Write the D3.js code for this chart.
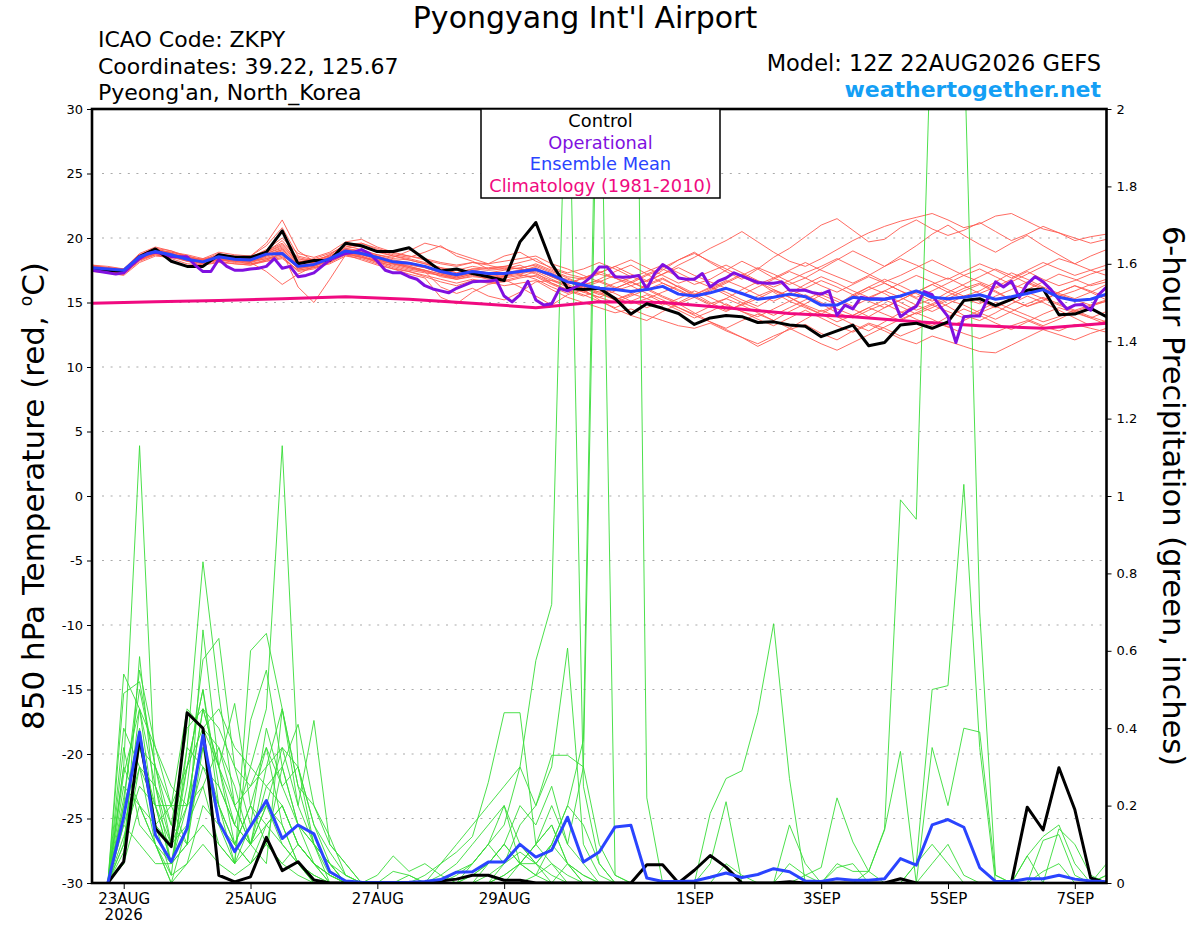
<!DOCTYPE html>
<html>
<head>
<meta charset="utf-8">
<script src="https://cdn.jsdelivr.net/npm/d3@7"></script>
<style>
  body { margin: 0; background: #fff; }
  svg text { font-family: "DejaVu Sans", "Liberation Sans", Arial, sans-serif; }
</style>
</head>
<body>
<div id="chart"></div>
<script>
// ========= Run / axis definitions ========= //
const runStart = Date.UTC(2026, 7, 22, 12);   // 12Z 22AUG2026
const HOUR = 3600 * 1000;
const xTickDates = ['2026-08-23', '2026-08-25', '2026-08-27', '2026-08-29', '2026-09-01', '2026-09-03', '2026-09-05', '2026-09-07'];
const xTickLabels = ['23AUG', '25AUG', '27AUG', '29AUG', '1SEP', '3SEP', '5SEP', '7SEP'];
const tempTicks = [-30, -25, -20, -15, -10, -5, 0, 5, 10, 15, 20, 25, 30];
const gridTemps = [-25, -20, -15, -10, -5, 0, 5, 10, 15, 20, 25];
const precipTicks = [0, 0.2, 0.4, 0.6, 0.8, 1, 1.2, 1.4, 1.6, 1.8, 2];
const legendItems = ['Control', 'Operational', 'Ensemble Mean', 'Climatology (1981-2010)'];

// ========= 850 hPa temperature, 6-hourly from 12Z 22AUG ========= //
const controlTemp = [
  17.6, 17.5, 17.4, 18.55, 19.15, 18.2, 17.8, 17.8, 18.7, 18.5,
  18.5, 18.9, 20.55, 18.0, 18.25, 18.25, 19.6, 19.4, 18.95, 18.95,
  19.25, 18.35, 17.45, 17.6, 17.25, 17.0, 16.7, 19.7, 21.2, 18.0,
  16.1, 16.0, 16.1, 15.3, 14.1, 14.9, 14.55, 14.15, 13.3, 13.8,
  14.0, 13.9, 13.45, 13.5, 13.25, 13.15, 12.35, 12.8, 13.25, 11.65,
  11.9, 13.25, 13.4, 13.0, 13.5, 15.15, 15.3, 14.75, 15.25, 15.95,
  16.05, 14.05, 14.1, 14.55, 13.9
];
const meanTemp = [
  17.7, 17.6, 17.5, 18.55, 18.95, 18.7, 18.35, 18.15, 18.55, 18.35,
  18.3, 18.75, 18.8, 17.8, 17.95, 18.4, 19.0, 18.8, 18.5, 18.15,
  18.05, 17.8, 17.4, 17.15, 17.4, 17.25, 17.25, 17.4, 17.55, 17.15,
  16.6, 16.35, 16.1, 16.0, 15.85, 16.0, 16.25, 15.65, 15.5, 15.75,
  16.1, 15.7, 15.25, 15.4, 15.65, 15.45, 14.8, 14.8, 15.4, 15.25,
  15.25, 15.5, 15.9, 15.4, 15.3, 15.4, 15.6, 15.25, 15.45, 15.7,
  16.0, 15.4, 15.15, 15.25, 15.65
];
// operational run is 3-hourly
const operationalTemp = [
  17.5, 17.4, 17.3, 17.2, 17.3, 17.9, 18.4, 18.8, 18.9, 18.8,
  18.55, 18.55, 18.55, 17.9, 17.4, 17.4, 18.35, 17.8, 17.5, 17.5,
  17.6, 17.65, 17.8, 18.4, 17.65, 17.8, 17.0, 17.1, 17.3, 17.8,
  18.3, 18.55, 18.8, 18.9, 19.1, 18.8, 18.2, 17.5, 17.3, 17.3,
  17.0, 16.8, 16.3, 16.05, 15.9, 15.75, 16.1, 16.35, 16.6, 16.65,
  16.65, 16.75, 15.5, 15.05, 15.6, 16.65, 15.2, 14.8, 14.9, 16.1,
  15.9, 16.2, 16.5, 17.0, 17.75, 17.75, 17.0, 16.95, 17.0, 17.1,
  16.05, 17.25, 17.95, 17.55, 16.9, 16.8, 16.8, 17.25, 16.2, 16.65,
  16.9, 17.3, 17.05, 16.8, 16.55, 16.5, 16.5, 16.6, 15.95, 15.95,
  15.95, 15.75, 15.65, 15.9, 14.0, 14.8, 14.5, 15.4, 15.3, 15.3,
  15.25, 15.4, 13.9, 14.35, 14.7, 15.85, 15.6, 14.7, 13.9, 11.9,
  13.9, 13.95, 13.95, 15.3, 16.6, 16.2, 16.65, 15.4, 16.45, 17.0,
  16.6, 16.0, 15.2, 14.5, 14.8, 14.85, 14.4, 15.6, 16.2
];
// climatology, one value per day at 12Z
const climTemp = [14.95, 15.05, 15.15, 15.3, 15.45, 15.25, 14.95, 14.6, 15.05, 15.0, 14.6, 14.15, 13.9, 13.5, 13.2, 13.0, 13.4];

// ensemble members (red)
const tempMembers = [
  [17.9,17.6,17.3,18.6,19.1,18.9,18.6,18.3,18.8,18.5, 18.6,19.4,20.8,18.6,18.3,18.6,19.3,19.6,19.1,18.7, 18.5,18.9,19.4,18.6,18.2,17.6,17.8,18.1,18.4,17.6, 17.2,16.9,17.3,17.8,17.2,16.7,17.5,18.3,18.9,18.1, 17.4,16.8,17.6,18.5,19.2,20.1,21.0,21.5,20.6,19.7, 19.9,20.8,21.4,20.7,20.2,20.6,21.2,20.5,19.8,20.3, 20.9,20.4,19.8,20.1,20.3],
  [17.5,17.3,17.2,18.2,18.7,18.4,18.0,17.9,18.2,18.0, 17.9,18.2,18.4,17.5,17.7,18.0,18.6,18.4,18.0,17.6, 17.4,17.1,16.8,16.5,16.8,16.6,16.3,16.5,16.7,16.0, 15.4,15.0,14.6,14.2,14.5,14.0,13.6,13.2,13.0,13.4, 12.8,12.3,11.8,12.4,12.9,13.3,12.6,12.1,12.8,13.4, 13.0,12.4,12.9,13.5,13.1,12.6,12.2,12.7,13.2,13.6, 13.1,12.8,13.3,13.0,12.7],
  [17.8,17.7,17.6,18.7,19.2,18.8,18.3,18.4,18.9,18.7, 18.6,19.6,21.4,19.0,18.2,18.5,19.1,19.0,18.7,18.4, 18.3,18.0,17.6,17.3,17.6,17.5,17.6,17.9,17.3,16.5, 16.0,16.3,15.8,15.2,15.6,16.4,16.9,16.2,15.5,14.9, 15.3,16.0,16.6,15.8,15.1,14.6,14.1,14.8,15.6,16.2, 15.7,15.0,14.4,14.9,15.5,16.1,16.5,15.9,15.2,14.7, 15.1,15.8,16.3,15.9,15.4],
  [17.6,17.4,17.2,18.3,18.8,18.6,18.4,18.1,18.3,18.2, 18.1,17.4,16.4,17.2,17.8,18.3,18.8,18.5,18.2,18.0, 17.8,17.5,17.0,16.8,17.0,16.9,17.1,17.3,17.5,17.0, 16.8,16.4,16.0,16.5,16.9,17.4,17.9,17.3,16.7,16.2, 15.8,15.2,14.7,15.4,16.0,15.5,14.9,14.2,13.8,14.4, 14.9,14.3,13.7,13.2,13.9,14.5,14.0,13.4,12.9,13.5, 14.1,14.6,14.2,13.8,14.3],
  [17.7,17.5,17.4,18.5,19.0,18.9,18.7,18.4,18.6,18.5, 18.4,18.9,19.8,18.4,18.1,18.7,19.5,19.3,18.9,18.6, 18.4,18.1,17.7,17.3,17.6,17.7,17.8,17.6,18.0,17.5, 17.0,16.8,17.2,16.9,16.5,17.1,17.6,17.0,16.4,16.8, 17.5,18.2,17.6,16.9,16.4,16.9,17.6,18.3,19.0,18.4, 17.8,18.6,19.4,20.3,21.0,20.2,19.5,18.9,19.6,20.2, 19.4,18.7,18.0,18.6,19.1],
  [17.6,17.5,17.4,18.4,18.9,18.7,18.3,18.0,18.4,18.3, 18.2,18.5,18.9,16.2,15.0,16.8,18.7,18.5,18.3,18.0, 17.9,17.7,17.3,17.0,17.3,17.0,16.8,16.2,15.5,14.8, 15.6,16.0,15.2,14.5,14.0,13.6,14.3,14.9,14.2,13.5, 12.9,12.3,11.6,12.2,13.0,13.7,14.4,13.9,13.3,12.8, 13.5,14.2,14.8,15.3,14.7,14.0,13.6,14.2,14.9,15.5, 15.0,14.4,13.8,13.2,13.6],
  [17.9,17.8,17.6,18.8,19.3,19.0,18.5,18.2,18.7,18.4, 18.5,19.1,20.0,18.8,18.5,18.9,19.7,19.9,19.3,18.9, 18.6,18.3,18.0,17.8,18.1,17.9,17.6,17.2,16.8,16.2, 15.7,16.3,16.8,17.4,17.9,17.2,16.5,15.9,15.4,15.9, 16.5,17.1,17.7,17.2,16.6,16.0,15.4,14.8,15.5,16.2, 16.8,16.3,15.7,15.1,15.8,16.4,17.0,17.6,17.1,16.5, 16.0,15.5,15.9,16.4,16.8],
  [17.4,17.3,17.1,18.1,18.6,18.5,18.2,17.9,18.1,18.0, 17.9,18.3,18.6,17.4,17.6,18.1,18.7,18.3,17.9,17.6, 17.2,16.9,15.4,14.9,15.8,16.4,16.7,17.0,17.4,16.8, 16.3,15.8,15.4,15.9,16.3,15.7,15.2,14.6,14.1,14.7, 15.3,14.8,14.2,13.6,14.3,14.9,15.6,15.1,14.5,13.9, 14.6,15.2,15.8,16.4,15.8,15.3,14.9,15.5,16.0,16.6, 16.1,15.6,15.2,14.8,15.1],
  [17.8,17.6,17.5,18.6,19.1,18.8,18.5,18.3,18.6,18.6, 18.4,18.8,19.2,18.1,18.4,18.8,19.4,19.1,18.7,18.5, 19.0,19.6,19.3,18.8,18.4,18.0,18.6,18.9,18.2,17.7, 17.3,17.6,18.1,17.6,17.0,16.6,17.2,17.9,18.5,19.2, 19.8,20.5,19.7,18.9,18.2,17.8,18.4,19.1,19.8,20.4, 20.9,21.3,21.6,21.9,21.4,20.8,21.1,21.7,21.9,21.3, 20.7,20.4,20.0,19.6,19.9],
  [17.5,17.4,17.3,18.3,18.8,18.6,18.2,18.1,18.5,18.3, 18.1,18.6,19.0,17.8,18.0,18.3,18.9,18.6,18.2,17.8, 17.5,17.3,17.1,16.9,17.2,17.0,16.9,17.1,17.0,16.4, 15.9,15.5,15.9,15.4,14.9,15.3,15.8,16.3,15.7,15.0, 14.4,14.8,15.3,15.9,15.4,14.7,14.1,13.5,14.0,14.6, 15.2,14.7,14.1,14.6,15.2,14.8,14.2,13.7,14.3,14.9, 15.4,14.9,14.4,14.8,15.2],
  [17.7,17.6,17.5,18.6,19.0,18.7,18.4,18.2,18.4,18.2, 18.3,18.8,19.3,18.2,18.1,18.5,19.2,19.0,18.6,18.2, 18.1,17.8,17.4,17.1,17.5,17.3,17.5,17.7,17.9,17.4, 16.9,16.4,16.7,16.2,15.8,16.3,16.8,16.2,15.6,16.1, 16.7,16.2,15.6,15.1,15.7,16.4,17.0,16.5,15.9,15.4, 15.9,16.5,17.1,16.6,16.0,15.5,15.9,16.6,17.3,16.8, 16.2,15.7,15.3,15.8,16.4],
  [17.6,17.4,17.3,18.4,18.8,18.6,18.3,18.0,18.3,18.2, 18.0,18.2,18.5,17.5,17.7,18.1,18.8,18.6,18.1,17.7, 17.4,17.0,16.6,16.3,16.7,16.5,16.6,16.9,17.1,16.5, 16.0,15.6,15.1,14.6,15.1,15.6,15.0,14.4,13.8,14.3, 14.9,14.3,13.7,13.2,13.8,14.4,13.8,13.2,12.7,13.3, 12.8,12.2,11.8,12.4,12.0,11.6,11.2,11.1,11.7,12.3, 12.9,12.5,12.1,12.6,13.0],
  [17.9,17.7,17.6,18.7,19.2,19.0,18.6,18.3,18.5,18.4, 18.3,18.9,19.5,18.3,18.3,18.6,19.2,19.4,19.0,18.6, 18.3,18.0,17.7,17.5,17.8,17.6,17.7,17.6,17.2,16.7, 16.4,16.9,17.4,16.9,16.3,16.7,17.2,17.7,17.1,16.6, 16.1,15.6,16.2,16.8,17.4,16.9,16.3,15.8,16.4,17.0, 16.5,15.9,15.4,15.9,16.5,17.1,17.6,17.0,16.4,16.0, 16.6,17.2,16.8,16.3,16.6],
  [17.5,17.3,17.2,18.3,18.7,18.5,18.3,18.1,18.4,18.3, 18.2,18.4,18.7,17.7,17.8,18.2,18.9,18.7,18.3,18.0, 17.7,17.4,17.1,16.8,17.1,16.8,17.0,17.4,17.8,17.3, 16.7,16.2,15.7,15.2,15.7,15.3,14.8,15.3,15.9,15.4, 14.8,14.3,13.9,14.5,15.1,15.6,15.0,14.5,14.0,14.6, 14.1,13.6,14.2,14.8,14.3,13.8,14.4,15.0,14.5,14.0, 13.5,13.9,14.4,13.9,13.5],
  [17.8,17.7,17.5,18.5,19.1,18.8,18.5,18.2,18.7,18.6, 18.5,19.0,19.6,18.5,18.2,18.7,19.5,19.6,19.2,18.8, 18.6,18.4,18.1,17.9,18.1,18.0,18.2,18.4,18.6,18.0, 17.6,17.1,16.6,16.1,16.6,17.2,17.7,18.3,18.8,18.2, 17.6,17.0,16.4,16.9,17.5,18.1,17.5,17.0,16.5,17.1, 17.8,18.4,17.9,17.3,16.8,17.4,18.0,17.5,16.9,17.5, 18.1,17.6,17.1,17.5,17.9],
  [17.6,17.5,17.4,18.4,18.9,18.7,18.4,18.2,18.5,18.4, 18.3,18.6,19.1,17.9,18.0,18.4,19.0,18.8,18.4,18.1, 17.8,17.5,17.2,17.0,17.3,17.1,17.2,17.5,17.7,17.1, 16.6,16.1,15.6,16.1,16.6,16.1,15.5,15.0,15.6,16.2, 15.6,15.0,14.5,14.0,14.6,15.2,15.8,15.3,14.7,15.3, 15.9,15.4,14.8,14.3,14.9,15.5,15.1,14.6,15.2,15.8, 15.3,14.8,14.3,14.7,15.1],
  [17.7,17.5,17.3,18.4,18.9,18.6,18.3,18.0,18.3,18.1, 18.0,18.3,18.8,17.6,17.8,18.3,18.8,18.5,18.1,17.9, 17.6,17.4,16.2,15.7,16.1,15.5,15.2,15.8,16.6,16.7, 16.2,15.8,16.2,15.7,15.1,14.6,15.1,14.6,14.0,13.5, 13.0,13.6,14.1,13.6,13.0,12.4,11.8,11.3,11.9,12.5, 13.1,13.7,14.2,13.7,13.1,13.6,14.2,14.7,14.2,13.7, 13.2,13.7,14.3,13.8,13.3],
  [17.8,17.6,17.5,18.6,19.1,18.8,18.5,18.3,18.6,18.5, 18.4,18.9,19.4,18.2,18.1,18.5,19.1,18.9,18.6,18.3, 18.1,17.8,17.4,17.2,17.5,17.3,17.2,17.4,17.6,17.0, 16.5,16.9,17.3,17.8,18.3,17.7,17.1,16.5,16.9,17.4, 17.9,17.3,16.7,16.2,16.7,17.3,17.8,18.4,17.8,17.2, 16.6,17.1,17.7,18.3,17.7,17.1,16.6,16.1,16.6,17.2, 17.8,18.4,18.0,17.5,17.1],
  [17.6,17.4,17.3,18.3,18.8,18.6,18.3,18.1,18.3,18.3, 18.1,18.4,18.8,17.6,17.9,18.3,18.9,18.7,18.4,18.0, 17.7,17.5,17.2,16.9,17.2,17.1,17.3,17.5,17.6,17.0, 16.4,15.9,15.4,15.0,15.5,16.0,16.5,16.0,15.4,14.8, 14.3,14.9,15.5,16.0,15.4,14.8,14.3,14.8,15.4,16.0, 16.5,15.9,15.3,14.8,15.3,15.9,16.4,15.8,15.2,14.7, 15.2,15.8,16.3,15.8,15.2],
  [17.7,17.6,17.4,18.5,19.0,18.7,18.4,18.2,18.4,18.4, 18.2,18.7,19.1,18.0,18.1,18.5,19.1,18.9,18.5,18.2, 18.0,17.7,17.3,17.1,17.4,17.2,17.0,17.2,17.5,17.0, 16.6,16.2,16.6,17.1,16.6,16.0,15.4,14.9,15.4,16.0, 16.6,17.2,16.6,16.0,15.5,16.1,16.7,16.2,15.6,15.1, 14.6,15.2,15.8,16.4,16.9,16.3,15.7,16.2,16.8,17.4, 16.8,16.3,16.7,17.2,17.6]
];

// ========= 6-hour precipitation (inches), valid 18Z 22AUG .. 12Z 7SEP ========= //
const controlPrecip = [
  0, 0.055, 0.378, 0.141, 0.094, 0.44, 0.40, 0.02, 0.003, 0.016,
  0.118, 0.032, 0.055, 0.008, 0, 0, 0, 0, 0, 0,
  0, 0.005, 0.01, 0.02, 0.02, 0.007, 0.007, 0, 0, 0,
  0, 0, 0, 0, 0.047, 0.047, 0, 0.033, 0.071, 0.041,
  0, 0, 0, 0.003, 0, 0, 0, 0, 0, 0,
  0.011, 0, 0, 0, 0, 0, 0, 0, 0.196, 0.137,
  0.298, 0.19, 0.013, 0
];
const meanPrecip = [
  0, 0.171, 0.39, 0.124, 0.055, 0.141, 0.382, 0.158, 0.081, 0.146,
  0.213, 0.115, 0.15, 0.127, 0.029, 0.005, 0.002, 0.001, 0.001, 0.002,
  0.004, 0.009, 0.028, 0.029, 0.054, 0.054, 0.10, 0.067, 0.085, 0.17,
  0.054, 0.08, 0.145, 0.149, 0.013, 0.004, 0.004, 0.005, 0.015, 0.026,
  0.014, 0.022, 0.037, 0.029, 0.005, 0.004, 0.011, 0.007, 0.007, 0.011,
  0.063, 0.046, 0.15, 0.164, 0.144, 0.04, 0.004, 0.004, 0.011, 0.011,
  0.02, 0.01, 0.005, 0.003
];
// ensemble members (green)
const precipMembers = [
  [0,0.30,1.13,0.25,0.05,0.20,0.45,0.30, 0.10,0.20,0.35,0.15,0.05,0.02,0,0, 0,0,0,0,0,0,0.02,0.05, 0.10,0.20,0.05,0.02,0.10,0.05,0.02,0, 0,0,0,0,0,0,0,0, 0,0,0,0,0,0,0,0, 0,0,0,0,0.05,0.10,0.02,0, 0,0,0,0,0,0,0,0],
  [0,0.10,0.35,0.20,0.10,0.30,0.50,0.25, 0.15,0.30,0.45,1.13,0.30,0.10,0.05,0, 0,0,0,0.02,0,0,0,0, 0,0.05,0.10,0.05,0,0,0,0, 0,0,0,0,0,0,0,0.05, 0.02,0,0,0,0,0,0,0, 0,0,0,0,0,0,0,0, 0,0,0,0.03,0.05,0,0,0],
  [0,0.54,0.45,0.15,0.02,0.35,0.83,0.49, 0.20,0.10,0.25,0.30,0.15,0.05,0,0, 0,0,0,0,0,0,0,0, 0,0,0,0,0,0.05,0.02,0, 0,0,0,0,0,0,0.18,0.27, 0.29,0.44,0.67,0.27,0,0,0,0, 0,0,0,0,0,0,0,0, 0,0,0,0,0,0,0,0],
  [0,0.49,0.52,0.30,0.10,0.15,0.30,0.20, 0.10,0.05,0.15,0.20,0.10,0.05,0.02,0, 0,0,0,0,0.02,0.05,0.10,0.15, 0.20,0.25,0.30,0.575,0.72,2.30,0.25,0.05, 0,0,0,0,0,0,0,0, 0,0,0,0,0,0,0,0, 0,0,0,0,0,0,0,0, 0,0,0,0,0,0,0,0],
  [0,0.20,0.55,0.35,0.20,0.10,0.654,0.30, 0.464,0.20,0.10,0.05,0.10,0.05,0,0, 0,0,0.03,0.02,0,0,0,0.05, 0.10,0.05,0.15,0.20,0.30,0.607,0.10,0.02, 0,0,0,0,0,0,0,0, 0,0,0,0.15,0.05,0,0,0, 0,0,0,0,0,0,0,0, 0,0,0,0,0,0,0,0],
  [0,0.05,0.585,0.20,0.05,0.25,0.577,0.632, 0.30,0.15,0.20,0.10,0.05,0,0,0, 0,0,0,0,0,0,0,0.02, 0.05,0.10,0.05,0.10,0.20,0.10,0.30,2.40, 0.02,0,0,0,0,0,0,0, 0,0,0,0,0,0,0,0, 0,0,0,0,0,0,0,0, 0,0,0,0,0,0,0,0],
  [0,0.15,0.30,0.10,0,0.05,0.20,0.15, 0.05,0.60,0.645,0.45,0.25,0.10,0.05,0, 0,0,0,0,0,0,0,0, 0,0.02,0.05,0.05,0.10,0.20,0.37,2.60, 2.80,3.50,0.22,0,0,0,0,0, 0,0,0,0,0,0,0,0, 0,0,0,0,0,0,0,0, 0,0,0,0,0,0,0,0],
  [0,0.25,0.20,0.10,0.05,0.10,0.35,0.20, 0.05,0.42,0.55,0.30,0.41,0.20,0.12,0.02, 0,0,0,0,0,0,0,0, 0,0,0,0.02,0.05,0,0,0, 0,0,0,0,0,0,0,0, 0,0,0,0,0,0,0.05,0.03, 0.03,0.14,0.99,0.94,2.30,2.60,2.20,0.70, 0.02,0,0,0,0,0,0,0],
  [0,0.10,0.45,0.25,0.15,0.40,0.45,0.30, 0.20,0.10,0.30,0.45,0.20,0.42,0.10,0.05, 0,0,0,0,0,0,0,0, 0,0,0,0,0,0,0,0, 0,0,0,0,0,0,0,0, 0,0,0,0,0,0,0,0, 0,0,0,0.05,0.50,0.51,1.03,0.35, 0,0,0,0,0,0,0,0],
  [0,0.30,0.20,0.15,0.20,0.20,0.25,0.10, 0.05,0.15,0.40,0.25,0.30,0.15,0.05,0, 0,0.02,0.07,0.03,0.05,0.02,0,0, 0,0,0,0,0,0,0,0, 0,0,0,0,0,0,0,0, 0,0,0,0,0.02,0.04,0.22,0.106, 0.03,0,0,0,0.35,0.20,0.40,0.39, 0.02,0,0,0,0,0,0,0],
  [0,0.40,0.30,0.20,0.20,0.45,0.40,0.35, 0.25,0.10,0.20,0.15,0.05,0,0,0, 0,0,0,0,0,0,0,0, 0,0,0,0,0,0,0,0, 0,0,0,0,0,0,0,0, 0,0,0,0,0,0,0,0, 0.03,0.137,0.34,0,0,0,0,0, 0,0,0,0.11,0.125,0.02,0,0.02],
  [0,0.20,0.35,0.30,0.15,0.10,0.40,0.45, 0.35,0.30,0.25,0.20,0.10,0.05,0.02,0, 0,0,0,0,0,0.05,0.08,0.12, 0.26,0.44,0.44,0.10,0.05,0.02,0,0, 0,0,0,0,0,0,0,0, 0,0,0,0,0,0,0,0, 0,0,0,0,0,0,0,0, 0,0,0.07,0.12,0.15,0.05,0,0],
  [0,0.12,0.25,0.20,0.05,0.30,0.50,0.20, 0.10,0.05,0.10,0.30,0.15,0.10,0.02,0, 0,0,0,0,0,0,0.03,0.05, 0.10,0.15,0.30,0.20,0.33,0.33,0.30,0.10, 0.02,0,0,0,0,0,0,0, 0,0,0,0,0,0,0,0, 0,0,0,0,0,0,0,0, 0,0,0,0,0,0,0,0],
  [0,0.18,0.40,0.15,0.10,0.35,0.30,0.25, 0.15,0.10,0.05,0.45,0.25,0.20,0.10,0.05, 0,0,0,0,0,0,0,0, 0.05,0.10,0.05,0.10,0.15,0.05,0,0, 0,0,0,0,0,0,0.05,0.21, 0,0,0,0,0,0,0,0, 0,0,0,0,0,0,0,0, 0,0,0.07,0,0,0,0,0],
  [0,0.35,0.15,0.10,0,0.15,0.25,0.35, 0.20,0.25,0.35,0.25,0.15,0.10,0.05,0.02, 0,0,0,0,0,0,0,0, 0,0.02,0.05,0.02,0,0,0,0, 0,0,0,0,0,0,0,0, 0,0,0,0.05,0.02,0,0,0, 0,0,0,0,0,0,0,0, 0,0,0,0,0,0,0,0.05],
  [0,0.08,0.30,0.25,0.10,0.20,0.35,0.15, 0.10,0.20,0.15,0.10,0.05,0.02,0,0, 0,0,0,0,0,0.02,0.05,0.10, 0.15,0.20,0.10,0.05,0.10,0.20,0.15,0.05, 0,0,0,0,0,0,0,0, 0,0,0,0,0,0,0.04,0.05, 0,0,0,0,0,0,0,0, 0,0,0,0,0,0,0,0],
  [0,0.15,0.10,0.05,0.05,0.10,0.15,0.10, 0.05,0.10,0.20,0.35,0.20,0.10,0,0, 0,0,0,0,0,0,0,0.02, 0.05,0.10,0.20,0.15,0.25,0.10,0.05,0, 0,0,0,0,0,0,0,0, 0,0,0,0,0,0,0,0, 0,0,0,0.05,0.10,0.05,0,0, 0,0,0,0,0,0,0,0],
  [0,0.22,0.50,0.30,0.20,0.30,0.40,0.30, 0.15,0.10,0.15,0.20,0.10,0.05,0.02,0, 0,0,0,0,0,0,0,0, 0,0,0.05,0.10,0.15,0.05,0,0, 0,0,0,0,0,0,0,0, 0,0,0,0,0,0,0,0, 0,0,0,0,0,0,0,0, 0,0,0,0,0.14,0.10,0.02,0],
  [0,0.05,0.20,0.10,0.02,0.05,0.10,0.05, 0.02,0.05,0.10,0.05,0.02,0,0,0, 0,0,0,0,0,0,0,0, 0.02,0.05,0.08,0.05,0.02,0,0,0, 0,0,0,0,0,0,0,0, 0,0,0,0,0,0,0,0, 0,0,0,0,0,0,0,0, 0,0,0,0,0,0,0,0],
  [0,0.28,0.45,0.35,0.25,0.20,0.45,0.40, 0.30,0.25,0.30,0.35,0.30,0.15,0.08,0.02, 0,0,0,0,0,0,0,0, 0,0,0,0,0,0,0,0, 0,0,0,0,0,0,0,0, 0,0,0,0,0,0,0,0, 0,0,0,0,0,0,0,0, 0,0,0,0,0,0,0,0.02]
];

// ========= Setup dimensions ========= //
const width = 1200;
const height = 927;
const plot = { left: 92, right: 1106.5, top: 109, bottom: 883 };
const fontFamily = '"DejaVu Sans", "Liberation Sans", Arial, sans-serif';

const colors = {
  member: '#ff5a50',
  precip: '#38dd38',
  control: '#000000',
  operational: '#8010e0',
  mean: '#2a44ff',
  clim: '#f00a80',
  grid: '#aaaaaa',
  site: '#149ff5'
};
const legendColors = [colors.control, colors.operational, colors.mean, colors.clim];

// ========= Scales ========= //
const x = d3.scaleUtc()
  .domain([new Date(runStart), new Date(runStart + 384 * HOUR)])
  .range([plot.left, plot.right]);
const yTemp = d3.scaleLinear().domain([-30, 30]).range([plot.bottom, plot.top]);
const yPrecip = d3.scaleLinear().domain([0, 2]).range([plot.bottom, plot.top]);

const at = (step, offset) => (d, i) => x(new Date(runStart + (i + offset) * step * HOUR));

// ========= Create SVG ========= //
const svg = d3.select('#chart').append('svg')
  .attr('width', width)
  .attr('height', height)
  .style('background', '#fff');

svg.append('defs').append('clipPath')
  .attr('id', 'plot-clip')
  .append('rect')
    .attr('x', plot.left)
    .attr('y', plot.top)
    .attr('width', plot.right - plot.left)
    .attr('height', plot.bottom - plot.top);

// ========= Gridlines ========= //
svg.append('g')
  .selectAll('line')
  .data(gridTemps)
  .join('line')
    .attr('x1', plot.left + 10)
    .attr('x2', plot.right)
    .attr('y1', d => yTemp(d))
    .attr('y2', d => yTemp(d))
    .attr('stroke', colors.grid)
    .attr('stroke-width', 1.2)
    .attr('stroke-dasharray', '2,6.6');

// ========= Series ========= //
const series = svg.append('g').attr('clip-path', 'url(#plot-clip)');

const tempLine = d3.line().x(at(6, 0)).y(d => yTemp(d));
const opLine = d3.line().x(at(3, 0)).y(d => yTemp(d));
const climLine = d3.line().x(at(24, 0)).y(d => yTemp(d));
const precipLine = d3.line().x(at(6, 1)).y(d => yPrecip(d));

series.append('g')
  .selectAll('path')
  .data(tempMembers)
  .join('path')
    .attr('d', tempLine)
    .attr('fill', 'none')
    .attr('stroke', colors.member)
    .attr('stroke-width', 0.9);

series.append('g')
  .selectAll('path')
  .data(precipMembers)
  .join('path')
    .attr('d', precipLine)
    .attr('fill', 'none')
    .attr('stroke', colors.precip)
    .attr('stroke-width', 0.9);

const thick = [
  { data: climTemp, line: climLine, color: colors.clim },
  { data: controlTemp, line: tempLine, color: colors.control },
  { data: operationalTemp, line: opLine, color: colors.operational },
  { data: meanTemp, line: tempLine, color: colors.mean },
  { data: controlPrecip, line: precipLine, color: colors.control },
  { data: meanPrecip, line: precipLine, color: colors.mean }
];
thick.forEach(s => {
  series.append('path')
    .attr('d', s.line(s.data))
    .attr('fill', 'none')
    .attr('stroke', s.color)
    .attr('stroke-width', 3)
    .attr('stroke-linejoin', 'round');
});

// ========= Axes ========= //
function styleAxis(g, size) {
  g.select('.domain').remove();
  g.attr('font-family', fontFamily).attr('font-size', size);
  g.selectAll('.tick line').attr('stroke', '#000').attr('stroke-width', 1);
  g.selectAll('.tick text').attr('fill', '#000');
}

svg.append('g')
  .attr('transform', `translate(${plot.left},0)`)
  .call(d3.axisLeft(yTemp).tickValues(tempTicks).tickSize(5).tickPadding(4).tickFormat(d => String(d)))
  .call(g => styleAxis(g, 13));

svg.append('g')
  .attr('transform', `translate(${plot.right},0)`)
  .call(d3.axisRight(yPrecip).tickValues(precipTicks).tickSize(5).tickPadding(5).tickFormat(d => String(d)))
  .call(g => styleAxis(g, 13));

svg.append('g')
  .attr('transform', `translate(0,${plot.bottom})`)
  .call(d3.axisBottom(x)
    .tickValues(xTickDates.map(s => new Date(s + 'T00:00:00Z')))
    .tickSize(6).tickPadding(4)
    .tickFormat((d, i) => xTickLabels[i]))
  .call(g => styleAxis(g, 15));

svg.append('text')
  .attr('x', x(new Date(xTickDates[0] + 'T00:00:00Z')))
  .attr('y', 920)
  .attr('text-anchor', 'middle')
  .attr('font-size', 15)
  .text('2026');

// ========= Frame ========= //
svg.append('rect')
  .attr('x', plot.left)
  .attr('y', plot.top)
  .attr('width', plot.right - plot.left)
  .attr('height', plot.bottom - plot.top)
  .attr('fill', 'none')
  .attr('stroke', '#000')
  .attr('stroke-width', 2.6);

// ========= Legend ========= //
const legend = svg.append('g');
legend.append('rect')
  .attr('x', 481)
  .attr('y', plot.top)
  .attr('width', 239)
  .attr('height', 89)
  .attr('fill', '#fff')
  .attr('stroke', '#000')
  .attr('stroke-width', 1.5);
legend.selectAll('text')
  .data(legendItems)
  .join('text')
    .attr('x', 600.5)
    .attr('y', (d, i) => 127 + i * 21.6)
    .attr('text-anchor', 'middle')
    .attr('font-size', 17.8)
    .attr('fill', (d, i) => legendColors[i])
    .text(d => d);

// ========= Titles ========= //
svg.append('text')
  .attr('x', 585).attr('y', 28)
  .attr('text-anchor', 'middle')
  .attr('font-size', 30)
  .text("Pyongyang Int'l Airport");

const info = ['ICAO Code: ZKPY', 'Coordinates: 39.22, 125.67', "Pyeong'an, North_Korea"];
svg.append('g').selectAll('text')
  .data(info)
  .join('text')
    .attr('x', 98)
    .attr('y', (d, i) => 47 + i * 26.5)
    .attr('font-size', 22)
    .text(d => d);

svg.append('text')
  .attr('x', 1101).attr('y', 71)
  .attr('text-anchor', 'end')
  .attr('font-size', 22.5)
  .text('Model: 12Z 22AUG2026 GEFS');

svg.append('text')
  .attr('x', 1101).attr('y', 97)
  .attr('text-anchor', 'end')
  .attr('font-size', 22)
  .attr('font-weight', 'bold')
  .attr('fill', colors.site)
  .text('weathertogether.net');

const leftTitle = svg.append('text')
  .attr('transform', `translate(44,${(plot.top + plot.bottom) / 2}) rotate(-90)`)
  .attr('text-anchor', 'middle')
  .attr('font-size', 31);
leftTitle.append('tspan').text('850 hPa Temperature (red, ');
leftTitle.append('tspan').attr('font-size', 17).attr('dy', -12).text('o');
leftTitle.append('tspan').attr('dy', 12).text('C)');

svg.append('text')
  .attr('transform', `translate(1163,${(plot.top + plot.bottom) / 2}) rotate(90)`)
  .attr('text-anchor', 'middle')
  .attr('font-size', 30.5)
  .text('6-hour Precipitation (green, inches)');
</script>
</body>
</html>
